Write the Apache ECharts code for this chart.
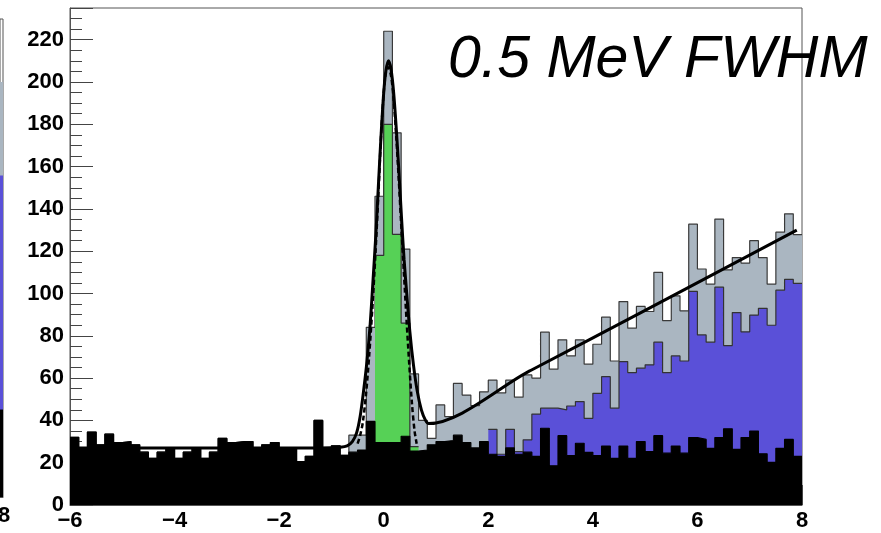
<!DOCTYPE html>
<html><head><meta charset="utf-8">
<script src="https://cdn.jsdelivr.net/npm/echarts@6/dist/echarts.min.js"></script>
<style>html,body{margin:0;padding:0;background:#fff}#c{width:881px;height:533px}</style>
</head><body><div id="c"></div>
<script>
// ---- binning ----
const xMin = -6, xMax = 8, nBins = 84;

// ---- histogram contents (bin tops) ----
const bkgBlack = [32,27,34.5,28.5,33.5,29.5,30,28.5,25,22,25,27,22,25,27,22,25,31.5,29.5,30,30,27,28.5,29.5,26.5,27,20.5,23,40,27,
  28,23.5,25,26,39.5,29.5,29.5,29.5,32.5,25.5,26,28.5,30,30.5,33,29.5,27,30,24,23,27,24,25,23,
  36.3,18.5,32.8,23.3,29.2,24.9,23.3,27.9,22,27.9,22,30,25.2,32.8,24.5,27.9,24.5,31.9,31,26.8,31.9,36,26.3,31.9,35,24.2,20.2,26.8,31,23];
const dataTotal = [32,27,34.5,28.5,33.5,29.5,30,28.5,25,22,25,27,22,25,27,22,25,31.5,29.5,30,30,27,28.5,29.5,26.5,27,20.5,23,40,27,
  28,23.5,33,33,84,146,224,176,121,62,40,31.5,47.3,41.8,57.5,52,47,53.5,59,53,59,51,61.5,60,
  81.7,64.2,78.1,70.5,78.1,66.6,76,88.8,68.1,96.2,83.6,93.9,91.5,110,87.2,98.9,91.8,132.8,111.6,104.4,135.2,111.2,117,114.4,125,117,104.4,129,137.7,127.8];
const bkgBlue = [null,null,null,null,null,null,null,null,null,null,null,null,null,null,null,null,null,null,null,null,null,null,null,null,null,null,null,null,null,null,
  null,null,null,null,null,null,null,null,null,null,null,null,null,null,null,null,null,null,35.8,24,35.8,25.2,30.8,43,
  45.8,45.8,45,46.8,48.9,41,52.8,60.7,45.8,67.8,62.6,64.7,66.3,77,62.6,70.5,68.1,101,80.4,77,103,75.4,91,81.9,89.8,93,85,101.6,106.7,104.8];
const signalGreen = [null,null,null,null,null,null,null,null,null,null,null,null,null,null,null,null,null,null,null,null,null,null,null,null,null,null,null,null,null,null,
  null,null,null,null,null,118,180,128,86,27.6,null,null,null,null,null,null,null,null,null,null,null,null,null,null,
  null,null,null,null,null,null,null,null,null,null,null,null,null,null,null,null,null,null,null,null,null,null,null,null,null,null,null,null,null,null];

// ---- fit curves ----
const fitSolid = [[-6,27],[-3,27],[-1.5,27],[-1,27.1],[-0.85,27.3],[-0.7,28],[-0.6,30],[-0.52,34],[-0.45,42],[-0.38,55],[-0.32,68],
  [-0.26,85],[-0.2,108],[-0.15,128],[-0.1,152],[-0.05,175],[0,195],[0.04,205],[0.09,210],[0.14,206],[0.19,195],[0.24,178],
  [0.29,158],[0.34,136],[0.39,116],[0.44,100],[0.5,82],[0.57,66],[0.64,54],[0.72,45],[0.8,40],[0.86,38.5],[2.8,63.5],[5,92],[7.9,130]];
const fitDashed = [[-0.5,29],[-0.45,33],[-0.4,39],[-0.34,52],[-0.28,70],[-0.22,92],[-0.16,118],[-0.1,148],[-0.05,175],[0,195],
  [0.04,204],[0.09,207],[0.14,203],[0.19,192],[0.24,174],[0.29,153],[0.34,130],[0.39,108],[0.44,86],[0.49,66],[0.54,48],[0.59,35],[0.63,29]];

// ---- neighbouring panel (right edge only): last bin tops ----
const sideCategories = ['8'];
const sideBlack = [43], sideBlue = [158], sideGrey = [204];

const xTicks = [-6,-4,-2,0,2,4,6,8];
const yTicks = [0,20,40,60,80,100,120,140,160,180,200,220];
const titleText = '0.5 MeV FWHM';

function edge(i, lo, hi, n){ return lo + i*(hi-lo)/n; }
function stepData(vals, lo, hi, n){
  const out=[]; let last=-1;
  for(let i=0;i<vals.length;i++){ if(vals[i]==null) continue; out.push([edge(i,lo,hi,n), vals[i]]); last=i; }
  if(last>=0) out.push([edge(last+1,lo,hi,n), vals[last]]);
  return out;
}
const minus = v => (v<0 ? '\u2212'+(-v) : String(v));
const lblFont = {fontFamily:'Liberation Sans', fontSize:22, fontWeight:'bold', color:'#000'};

function hist(name, vals, fill, stroke, z){
  return {name, type:'line', step:'end', data: stepData(vals, xMin, xMax, nBins),
    symbol:'none', silent:true, z,
    lineStyle:{color:stroke, width:1.2}, areaStyle:{color:fill, opacity:1}};
}
function sideBar(vals, fill, z){
  return {type:'bar', xAxisIndex:1, yAxisIndex:1, data:vals, barWidth:'100%', barGap:'-100%', silent:true, z,
    itemStyle:{color:fill}};
}

const chart = echarts.init(document.getElementById('c'), null, {renderer:'canvas'});
chart.setOption({
  animation:false,
  backgroundColor:'#fff',
  title:{text:titleText, left:443, top:26, textStyle:{fontFamily:'Liberation Sans', fontStyle:'italic', fontWeight:'normal', fontSize:59, color:'#000'}},
  grid:[
    {left:70, top:8, right:79, bottom:28, show:true, borderColor:'#555', borderWidth:1, backgroundColor:'transparent'},
    {left:0, top:19, width:3, bottom:36, show:true, borderColor:'#555', borderWidth:1, backgroundColor:'transparent'}
  ],
  xAxis:[
    {type:'value', gridIndex:0, min:xMin, max:xMax, interval:2,
      axisLine:{show:true, onZero:false, lineStyle:{color:'#555'}},
      axisTick:{show:true, inside:true, length:20, lineStyle:{color:'#444'}},
      splitLine:{show:false},
      axisLabel:Object.assign({margin:5, formatter: v => xTicks.includes(v) ? minus(v) : ''}, lblFont)},
    {type:'category', gridIndex:1, data:sideCategories,
      axisLine:{show:true, onZero:false, lineStyle:{color:'#555'}}, axisTick:{show:false}, splitLine:{show:false},
      axisLabel:{show:false}}
  ],
  yAxis:[
    {type:'value', gridIndex:0, min:0, max:235, interval:20,
      axisLine:{show:true, onZero:false, lineStyle:{color:'#555'}},
      axisTick:{show:true, inside:true, length:23, lineStyle:{color:'#444'}},
      minorTick:{show:true, splitNumber:4, length:12, lineStyle:{color:'#444'}},
      splitLine:{show:false},
      axisLabel:Object.assign({margin:6, showMaxLabel:false, formatter: v => yTicks.includes(v) ? String(v) : ''}, lblFont)},
    {type:'value', gridIndex:1, min:0, max:235, interval:20,
      axisLine:{show:false, onZero:false}, axisTick:{show:false}, axisLabel:{show:false}, splitLine:{show:false}}
  ],
  graphic:[
    {type:'text', left:-2, top:505, style:{text:sideCategories[0], font:'bold 22px "Liberation Sans"', fill:'#000'}}
  ],
  series:[
    hist('total', dataTotal, '#aab6c1', '#3a3a3a', 2),
    hist('blue', bkgBlue, '#5a50d8', '#333', 3),
    hist('green', signalGreen, '#56d156', '#333', 4),
    hist('black', bkgBlack, '#000', '#000', 5),
    {type:'line', data:fitSolid, smooth:0.3, symbol:'none', silent:true, z:7,
      lineStyle:{color:'#000', width:3}},
    {type:'line', data:fitDashed, smooth:0.3, symbol:'none', silent:true, z:6,
      lineStyle:{color:'#000', width:2.5, type:[5,3]}},
    sideBar(sideGrey, '#aab6c1', 2),
    sideBar(sideBlue, '#5a50d8', 3),
    sideBar(sideBlack, '#000', 5)
  ]
});
</script>
</body></html>
